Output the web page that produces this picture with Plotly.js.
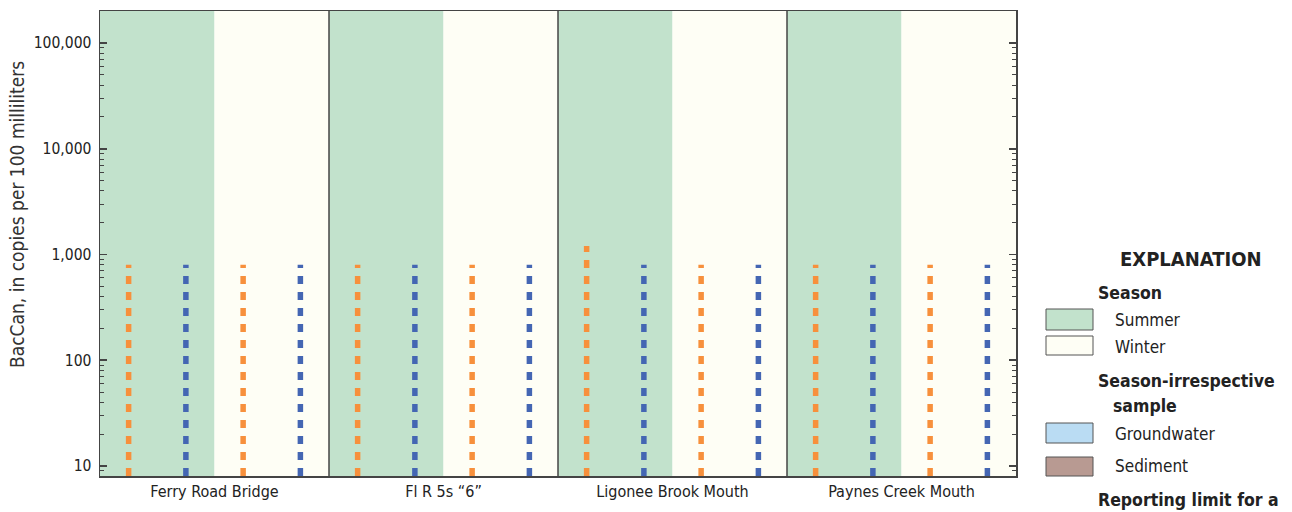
<!DOCTYPE html>
<html>
<head>
<meta charset="utf-8">
<script src="https://cdn.plot.ly/plotly-3.0.1.min.js"></script>
<style>html,body{margin:0;padding:0;background:#fff;}#chart{width:1292px;height:512px;}</style>
</head>
<body>
<div id="chart"></div>
<script>
// ---- data ----
var sites = ["Ferry Road Bridge", "Fl R 5s \u201c6\u201d", "Ligonee Brook Mouth", "Paynes Creek Mouth"];
var seasons = ["Summer", "Winter"];
// reporting-limit values (copies per 100 mL)
var summerOrange = [800, 800, 1200, 800];
var summerBlue   = [800, 800, 800, 800];
var winterOrange = [800, 800, 800, 800];
var winterBlue   = [800, 800, 800, 800];
var yTickVals = [10, 100, 1000, 10000, 100000];
var yTickText = ["10", "100", "1,000", "10,000", "100,000"];

// ---- styling ----
var FONT = "'Liberation Sans Narrow', 'DejaVu Sans Condensed', 'Roboto Condensed', Arial, sans-serif";
var cSummer = "#C2E2CC", cWinter = "#FEFEF5";
var cOrange = "#F7903C", cBlue = "#4466B3";
var cFrame = "#444444";
var yRange = [0.905, 5.303];
var yMin = Math.pow(10, yRange[0]);

var L = 100, R = 1016, T = 11, B = 476;
function px(x) { return (x - L) / (R - L); }
function py(y) { return (B - y) / (B - T); }

var traces = [];
function addLine(xpos, val, color) {
  traces.push({
    type: "scatter", mode: "lines", x: [xpos, xpos], y: [yMin, val],
    line: {color: color, width: 5.5, dash: "8px,8px"},
    hoverinfo: "skip", showlegend: false
  });
}
var shapes = [];
for (var i = 0; i < sites.length; i++) {
  var base = i * 2;
  shapes.push({type: "rect", xref: "x", yref: "paper", x0: base, x1: base + 1, y0: 0, y1: 1,
    fillcolor: cSummer, line: {width: 0}, layer: "below"});
  shapes.push({type: "rect", xref: "x", yref: "paper", x0: base + 1, x1: base + 2, y0: 0, y1: 1,
    fillcolor: cWinter, line: {width: 0}, layer: "below"});
  addLine(base + 0.25, summerOrange[i], cOrange);
  addLine(base + 0.75, summerBlue[i], cBlue);
  addLine(base + 1.25, winterOrange[i], cOrange);
  addLine(base + 1.75, winterBlue[i], cBlue);
  if (i > 0) {
    shapes.push({type: "line", xref: "x", yref: "paper", x0: base, x1: base, y0: 0, y1: 1,
      line: {color: cFrame, width: 1.5}, layer: "above"});
  }
}

// minor ticks
var minorVals = [];
for (var d = 1; d <= 5; d++) {
  for (var m = 2; m <= 9; m++) minorVals.push(m * Math.pow(10, d));
}
minorVals.push(9);

// legend (explanation) built from shapes + annotations
var annotations = [];
function legBox(y0, y1, color) {
  shapes.push({type: "rect", xref: "paper", yref: "paper", x0: px(1046), x1: px(1093), y0: py(y1), y1: py(y0),
    fillcolor: color, line: {color: "#555", width: 1}});
}
function legText(x, y, text, size, anchor) {
  annotations.push({xref: "paper", yref: "paper", x: px(x), y: py(y), text: text, showarrow: false,
    xanchor: anchor || "left", yanchor: "middle", font: {family: FONT, size: size, color: "#222"}});
}
legText(1191, 259, "<b>EXPLANATION</b>", 20, "center");
legText(1096, 293, "<b>Season</b>", 17.5);
legBox(309, 330, cSummer); legText(1113, 320, seasons[0], 17);
legBox(336, 355, cWinter); legText(1113, 347, seasons[1], 17);
legText(1096, 381, "<b>Season-irrespective</b>", 17.5);
legText(1111, 406, "<b>sample</b>", 17.5);
legBox(423, 443, "#BADCF3"); legText(1113, 434, "Groundwater", 17);
legBox(457, 476, "#B89A92"); legText(1113, 466, "Sediment", 17);
legText(1096, 500, "<b>Reporting limit for a</b>", 17.5);

// y-axis title as rotated annotation
annotations.push({xref: "paper", yref: "paper", x: px(17), y: py(215), xanchor: "center", yanchor: "middle",
  textangle: -90, showarrow: false, text: "BacCan, in copies per 100 milliliters",
  font: {family: FONT, size: 19, color: "#333"}});

var layout = {
  width: 1292, height: 512,
  margin: {l: L, r: 1292 - R, t: T, b: 512 - B, pad: 0},
  paper_bgcolor: "#ffffff", plot_bgcolor: "#ffffff",
  font: {family: FONT, color: "#222"},
  showlegend: false,
  xaxis: {
    range: [0, 8], showgrid: false, zeroline: false,
    tickvals: sites.map(function (s, k) { return k * 2 + 1; }), ticktext: sites,
    ticks: "", tickfont: {family: FONT, size: 16, color: "#222"},
    showline: true, linecolor: cFrame, linewidth: 1.5, mirror: true, fixedrange: true
  },
  yaxis: {
    type: "log", range: yRange, showgrid: false, zeroline: false,
    tickvals: yTickVals, ticktext: yTickText,
    ticks: "inside", ticklen: 7, tickwidth: 1.5, tickcolor: cFrame,
    minor: {tickvals: minorVals, ticks: "inside", ticklen: 4, tickwidth: 1, tickcolor: cFrame},
    tickfont: {family: FONT, size: 15.5, color: "#222"},
    ticklabelstandoff: 4,
    showline: true, linecolor: cFrame, linewidth: 1.5, mirror: "allticks",
    fixedrange: true
  },
  shapes: shapes,
  annotations: annotations
};
Plotly.newPlot("chart", traces, layout, {staticPlot: true, displayModeBar: false});
</script>
</body>
</html>
